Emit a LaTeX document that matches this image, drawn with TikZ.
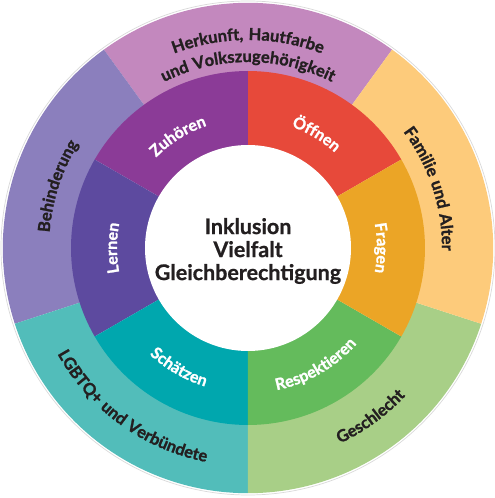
\documentclass[tikz,border=0pt]{standalone}
\usepackage{fontspec}
\usetikzlibrary{decorations.text}
\newfontfamily\labfont[LetterSpace=6, BoldFeatures={FakeBold=1.3}]{Lato}
\newfontfamily\centfont[BoldFeatures={FakeBold=0.8}]{Lato}
\definecolor{cHerkunft}{HTML}{C388BE}
\definecolor{cBehind}{HTML}{8B7FBD}
\definecolor{cLGBTQ}{HTML}{52BDBA}
\definecolor{cGeschl}{HTML}{A8CF87}
\definecolor{cFamilie}{HTML}{FDCB7B}
\definecolor{cZuhoeren}{HTML}{8B3B97}
\definecolor{cLernen}{HTML}{5D4A9F}
\definecolor{cSchaetzen}{HTML}{00A7AE}
\definecolor{cRespekt}{HTML}{64BB5C}
\definecolor{cFragen}{HTML}{EBA526}
\definecolor{cOeffnen}{HTML}{E7493A}
\definecolor{labdark}{HTML}{231F20}
\tikzset{
  outlab/.style={decorate, decoration={text along path, text align=center,
      text={|\labfont\bfseries\fontsize{16.5}{16.5}\selectfont\color{labdark}|#1}}},
  inlab/.style={decorate, decoration={text along path, text align=center,
      text={|\labfont\bfseries\fontsize{16}{16}\selectfont\color{white}|#1}}},
}
\newcommand{\ringseg}[5]{% color, a1, a2, r1, r2
  \fill[#1] (#2:#4) arc[start angle=#2, end angle=#3, radius=#4]
    -- (#3:#5) arc[start angle=#3, end angle=#2, radius=#5] -- cycle;}
\begin{document}
\begin{tikzpicture}[x=1pt,y=1pt]
\useasboundingbox (-248,-250) rectangle (247,248);
% outer rim
\draw[gray!30, line width=0.7pt] (0,0) circle (247);
% outer ring
\ringseg{cHerkunft}{54}{126}{176}{245.2}
\ringseg{cBehind}{126}{198}{176}{245.2}
\ringseg{cLGBTQ}{198}{270}{176}{245.2}
\ringseg{cGeschl}{270}{342}{176}{245.2}
\ringseg{cFamilie}{-18}{54}{176}{245.2}
% inner ring
\ringseg{cOeffnen}{30}{90}{102}{177}
\ringseg{cZuhoeren}{90}{150}{102}{177}
\ringseg{cLernen}{150}{210}{102}{177}
\ringseg{cSchaetzen}{210}{270}{102}{177}
\ringseg{cRespekt}{270}{330}{102}{177}
\ringseg{cFragen}{-30}{30}{102}{177}
\fill[white] (0,0) circle (103);
% centre text
\node[align=center, text=labdark,
      font={\centfont\bfseries\fontsize{21.5}{23}\selectfont}] (centre) at (0,-3)
  {Inklusion\\Vielfalt\\Gleichberechtigung};
% outer labels
\path[outlab={Herkunft, Hautfarbe}] (145:208) arc[start angle=145, end angle=35, radius=208];
\path[outlab={und Volkszugehörigkeit}] (145:186) arc[start angle=145, end angle=35, radius=186];
\path[outlab={Familie und Alter}] (64:194) arc[start angle=64, end angle=-28, radius=194];
\path[outlab={Behinderung}] (208:199) arc[start angle=208, end angle=116, radius=199];
\path[outlab={LGBTQ+ und Verbündete}] (186:218) arc[start angle=186, end angle=282, radius=218];
\path[outlab={Geschlecht}] (260:216) arc[start angle=260, end angle=352, radius=216];
% inner labels
\path[inlab={Öffnen}] (96:129) arc[start angle=96, end angle=22, radius=129];
\path[inlab={Zuhören}] (158:129) arc[start angle=158, end angle=86, radius=129];
\path[inlab={Lernen}] (216:131) arc[start angle=216, end angle=144, radius=131];
\path[inlab={Fragen}] (36:129) arc[start angle=36, end angle=-36, radius=129];
\path[inlab={Schätzen}] (202:145) arc[start angle=202, end angle=278, radius=145];
\path[inlab={Respektieren}] (260:145) arc[start angle=260, end angle=340, radius=145];
\end{tikzpicture}
\end{document}
